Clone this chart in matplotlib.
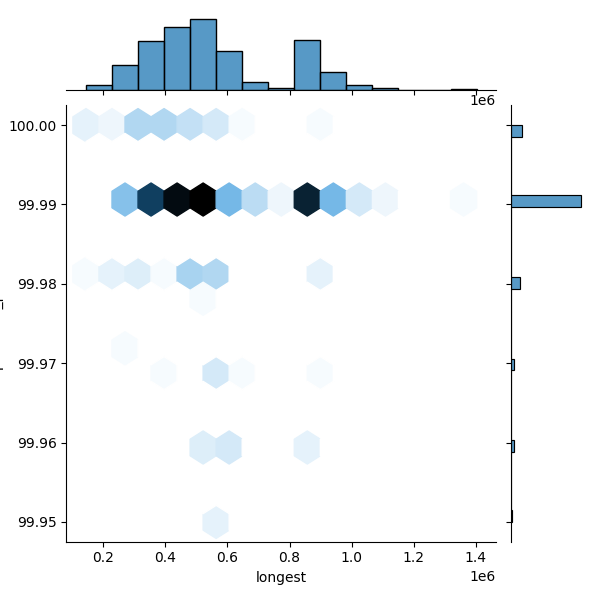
import numpy as np
import pandas as pd
import matplotlib
matplotlib.use("Agg")
import matplotlib.pyplot as plt
import seaborn as sns

# longest contig (Mb) and number of assemblies there, one pair of lists per identity level
levels = [100.00, 99.99, 99.98, 99.97, 99.96, 99.95]

x_100 = [0.144, 0.16, 0.21, 0.245, 0.29, 0.33, 0.375, 0.415, 0.46, 0.50, 0.545, 0.585, 0.63, 0.88]
n_100 = [1, 2, 1, 1, 4, 5, 3, 6, 3, 4, 2, 3, 1, 1]

x_9999 = [0.270, 0.354, 0.438, 0.522, 0.605, 0.689, 0.773, 0.857, 0.941, 1.025, 1.109, 1.4025]
n_9999 = [14, 39, 48, 50, 16, 8, 2, 44, 16, 5, 2, 1]

x_9998 = [0.165, 0.245, 0.29, 0.33, 0.41, 0.46, 0.50, 0.522, 0.545, 0.585, 0.88, 0.92]
n_9998 = [1, 3, 2, 2, 1, 4, 6, 1, 4, 5, 2, 1]

x_9997 = [0.270, 0.41, 0.585, 0.63, 0.92]
n_9997 = [1, 1, 5, 1, 1]

x_9996 = [0.522, 0.605, 0.857]
n_9996 = [4, 5, 3]

x_9995 = [0.585]
n_9995 = [3]

xs = [x_100, x_9999, x_9998, x_9997, x_9996, x_9995]
ns = [n_100, n_9999, n_9998, n_9997, n_9996, n_9995]

longest = np.concatenate([np.repeat(np.array(x) * 1e6, n) for x, n in zip(xs, ns)])
pct = np.concatenate([np.repeat(lvl, sum(n)) for lvl, n in zip(levels, ns)])
df = pd.DataFrame({"longest": longest, "precision_pct": pct})

# same hex colormap seaborn builds for kind="hex"
color = "C0"
color_rgb = matplotlib.colors.to_rgb(color)
colors = [sns.utils.set_hls_values(color_rgb, l=l) for l in np.linspace(1, 0, 12)]
cmap = sns.blend_palette(colors, as_cmap=True)

g = sns.JointGrid(data=df, x="longest", y="precision_pct", height=6)
g.plot_joint(plt.hexbin, gridsize=15, cmap=cmap)
sns.histplot(data=df, x="longest", bins=15, color=color, ax=g.ax_marg_x)
sns.histplot(data=df, y="precision_pct", bins=34, color=color, ax=g.ax_marg_y)

g.figure.savefig("out.png", dpi=100)
